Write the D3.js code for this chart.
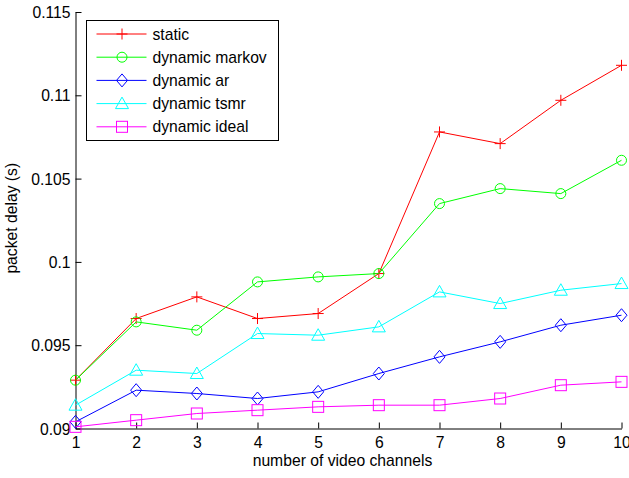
<!DOCTYPE html>
<html>
<head>
<meta charset="utf-8">
<script src="https://cdn.jsdelivr.net/npm/d3@7"></script>
<style>
  html, body { margin: 0; padding: 0; background: #fff; }
  svg { display: block; font-family: "Liberation Sans", Arial, sans-serif; }
</style>
</head>
<body>
<svg id="chart" width="629" height="478"></svg>
<script>
// Number of video channels on the x axis
const channels = [1, 2, 3, 4, 5, 6, 7, 8, 9, 10];

// Packet delay (s) per scheme
const staticDelay  = [0.0929, 0.0966, 0.0979, 0.0966, 0.0969, 0.0993, 0.1078, 0.1071, 0.1097, 0.1118];
const markovDelay  = [0.0929, 0.0964, 0.0959, 0.0988, 0.0991, 0.0993, 0.1035, 0.1044, 0.1041, 0.1061];
const arDelay      = [0.0904, 0.0923, 0.0921, 0.0918, 0.0922, 0.0933, 0.0943, 0.0952, 0.0962, 0.0968];
const tsmrDelay    = [0.0914, 0.0935, 0.0933, 0.0957, 0.0956, 0.0961, 0.0982, 0.0975, 0.0983, 0.0987];
const idealDelay   = [0.0901, 0.0905, 0.0909, 0.0911, 0.0913, 0.0914, 0.0914, 0.0918, 0.0926, 0.0928];

const seriesNames  = ["static", "dynamic markov", "dynamic ar", "dynamic tsmr", "dynamic ideal"];
const seriesColors = ["#ff0000", "#00ff00", "#0000ff", "#00ffff", "#ff00ff"];
const seriesMarks  = ["plus", "circle", "diamond", "triangle", "square"];

const yTicks      = [0.09, 0.095, 0.1, 0.105, 0.11, 0.115];
const yTickLabels = ["0.09", "0.095", "0.1", "0.105", "0.11", "0.115"];
const xTickLabels = ["1", "2", "3", "4", "5", "6", "7", "8", "9", "10"];

const seriesValues = [staticDelay, markovDelay, arDelay, tsmrDelay, idealDelay];

const svg = d3.select("#chart");
const fontSize = 15.7;
const plotL = 75.5, plotR = 621.5, plotT = 12, plotB = 428.5;

const x = d3.scaleLinear().domain([1, 10]).range([plotL, plotR]);
const y = d3.scaleLinear().domain([0.09, 0.115]).range([plotB, plotT]);

// Axes (inward ticks, no box)
const xAxis = d3.axisBottom(x).tickValues(channels)
  .tickFormat((d, i) => xTickLabels[i]).tickSizeInner(-6).tickSizeOuter(0);
const yAxis = d3.axisLeft(y).tickValues(yTicks)
  .tickFormat((d, i) => yTickLabels[i]).tickSizeInner(-6).tickSizeOuter(0);

const gx = svg.append("g").attr("transform", `translate(0,${plotB})`).call(xAxis);
const gy = svg.append("g").attr("transform", `translate(${plotL},0)`).call(yAxis);
[gx, gy].forEach(g => {
  g.selectAll("path, line").attr("stroke", "#000").attr("stroke-width", 1);
  g.selectAll("text").attr("fill", "#000").attr("font-size", fontSize)
    .attr("font-family", "Liberation Sans, Arial, sans-serif");
});
gx.selectAll("text").attr("y", 19.5).attr("dy", null);
gy.selectAll("text").attr("x", -5).attr("dy", "0.36em");

// Axis titles
svg.append("text").attr("x", (plotL + plotR) / 2 - 6).attr("y", 466)
  .attr("text-anchor", "middle").attr("font-size", fontSize).text("number of video channels");
svg.append("text").attr("transform", `translate(17,${(plotT + plotB) / 2 - 2}) rotate(-90)`)
  .attr("text-anchor", "middle").attr("font-size", fontSize).text("packet delay (s)");

// Marker shapes
function drawMarker(g, type, cx, cy, color) {
  const s = 5.5;
  if (type === "plus") {
    g.append("path").attr("d", `M${cx - s},${cy}H${cx + s}M${cx},${cy - s}V${cy + s}`)
      .attr("stroke", color).attr("fill", "none");
  } else if (type === "circle") {
    g.append("circle").attr("cx", cx).attr("cy", cy).attr("r", 5)
      .attr("stroke", color).attr("fill", "none");
  } else if (type === "diamond") {
    g.append("path").attr("d", `M${cx},${cy - 6.5}L${cx + 5.5},${cy}L${cx},${cy + 6.5}L${cx - 5.5},${cy}Z`)
      .attr("stroke", color).attr("fill", "none");
  } else if (type === "triangle") {
    g.append("path").attr("d", `M${cx},${cy - 6.5}L${cx + 6.5},${cy + 5}L${cx - 6.5},${cy + 5}Z`)
      .attr("stroke", color).attr("fill", "none");
  } else if (type === "square") {
    g.append("rect").attr("x", cx - 5.5).attr("y", cy - 5.5).attr("width", 11).attr("height", 11)
      .attr("stroke", color).attr("fill", "none");
  }
}

// Series lines and markers
const line = d3.line().x((d, i) => x(channels[i])).y(d => y(d));
seriesValues.forEach((vals, k) => {
  const g = svg.append("g");
  g.append("path").datum(vals).attr("d", line)
    .attr("fill", "none").attr("stroke", seriesColors[k]).attr("stroke-width", 1);
  vals.forEach((v, i) => drawMarker(g, seriesMarks[k], x(channels[i]), y(v), seriesColors[k]));
});

// Legend
const lg = svg.append("g");
lg.append("rect").attr("x", 86.5).attr("y", 20.5).attr("width", 192).attr("height", 120)
  .attr("fill", "#fff").attr("stroke", "#000").attr("stroke-width", 1);
seriesNames.forEach((name, k) => {
  const cy = 34 + k * 23.2;
  lg.append("line").attr("x1", 96.5).attr("x2", 146.5).attr("y1", cy).attr("y2", cy)
    .attr("stroke", seriesColors[k]).attr("stroke-width", 1);
  drawMarker(lg, seriesMarks[k], 122, cy, seriesColors[k]);
  lg.append("text").attr("x", 152.5).attr("y", cy).attr("dy", "0.36em")
    .attr("font-size", fontSize).text(name);
});
</script>
</body>
</html>
